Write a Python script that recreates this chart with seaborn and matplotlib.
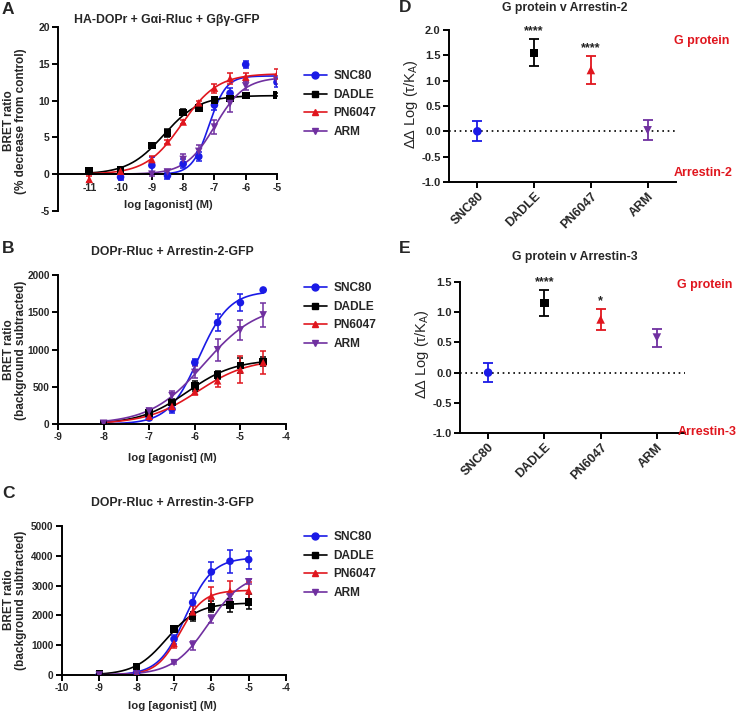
import numpy as np
import pandas as pd
import matplotlib
matplotlib.use("Agg")
import matplotlib.pyplot as plt
import seaborn as sns
from matplotlib.lines import Line2D
from matplotlib.ticker import FormatStrFormatter

sns.set_theme(style="ticks")
plt.rcParams['font.family'] = ['Liberation Sans', 'DejaVu Sans']
plt.rcParams['mathtext.fontset'] = 'custom'
plt.rcParams['mathtext.rm'] = 'Liberation Sans'
plt.rcParams['axes.unicode_minus'] = False

drugs = ["SNC80", "DADLE", "PN6047", "ARM"]
palette = {"SNC80": "#1a1ae6", "DADLE": "#000000", "PN6047": "#e0161e", "ARM": "#7030a0"}
marks = {"SNC80": "o", "DADLE": "s", "PN6047": "^", "ARM": "v"}
nan = np.nan

# ---- Panel A: G protein activation ----
a_logc = [-11, -10, -9, -8.5, -8, -7.5, -7, -6.5, -6, -5]
a_vals = {
    "SNC80":  [nan, -0.4, 1.2, -0.2, 1.4, 2.4, 9.4, 11.0, 14.9, 12.5],
    "DADLE":  [0.45, 0.55, 3.9, 5.6, 8.4, 9.0, 10.1, 10.3, 10.7, 10.8],
    "PN6047": [-0.7, 0.4, 2.0, 4.4, 7.1, 9.7, 11.7, 13.0, 13.2, 13.6],
    "ARM":    [nan, nan, 0.0, 0.3, 2.0, 3.1, 6.4, 9.6, 12.0, 12.8],
}
a_err = {
    "SNC80":  [nan, 0.4, 1.1, 0.4, 0.6, 0.6, 0.7, 0.7, 0.5, 0.6],
    "DADLE":  [0.2, 0.2, 0.3, 0.6, 0.4, 0.3, 0.3, 0.3, 0.3, 0.2],
    "PN6047": [0.4, 0.3, 0.5, 0.3, 0.3, 0.3, 0.6, 0.8, 0.6, 0.7],
    "ARM":    [nan, nan, 0.3, 0.3, 0.8, 0.9, 1.0, 1.1, 0.6, 0.6],
}

# ---- Panel B: Arrestin-2 ----
b_logc = [-8, -7, -6.5, -6, -5.5, -5, -4.5]
b_vals = {
    "SNC80":  [0, 80, 200, 826, 1362, 1629, 1799],
    "DADLE":  [5, 147, 290, 513, 660, 786, 840],
    "PN6047": [0, 103, 237, 437, 580, 727, 826],
    "ARM":    [10, 170, 380, 692, 996, 1263, 1464],
}
b_err = {
    "SNC80":  [0, 20, 50, 40, 120, 110, 0],
    "DADLE":  [0, 30, 40, 70, 50, 100, 60],
    "PN6047": [0, 20, 40, 50, 80, 180, 150],
    "ARM":    [0, 40, 60, 80, 150, 130, 160],
}

# ---- Panel C: Arrestin-3 ----
c_logc = [-9, -8, -7, -6.5, -6, -5.5, -5]
c_vals = {
    "SNC80":  [20, 90, 1205, 2433, 3460, 3817, 3873],
    "DADLE":  [35, 280, 1540, 1964, 2288, 2344, 2455],
    "PN6047": [0, 60, 1060, 2120, 2650, 2820, 2830],
    "ARM":    [0, 30, 413, 1004, 1875, 2620, 3125],
}
c_err = {
    "SNC80":  [0, 30, 150, 330, 320, 380, 300],
    "DADLE":  [0, 30, 80, 150, 180, 220, 250],
    "PN6047": [0, 20, 170, 200, 300, 330, 280],
    "ARM":    [0, 20, 40, 150, 140, 100, 80],
}

# ---- Panels D/E: bias factors ----
d_vals = [0.0, 1.55, 1.21, 0.02]
d_err = [0.20, 0.27, 0.28, 0.20]
d_stars = ["", "****", "****", ""]
e_vals = [0.0, 1.15, 0.88, 0.58]
e_err = [0.16, 0.21, 0.18, 0.15]
e_stars = ["", "****", "*", ""]

W, H = 744, 715
fig = plt.figure(figsize=(W / 100, H / 100), dpi=100)

TICK = 7.5
TITLE = 8.8
LAB = 8.2
YLAB = 8.5
LEG = 8.6
LET = 12.5


def add_ax(l, t, r, b):
    return fig.add_axes([l / W, 1 - b / H, (r - l) / W, (b - t) / H])


def fit_hill(x, y):
    x = np.asarray(x, float); y = np.asarray(y, float)
    m = ~np.isnan(y); x = x[m]; y = y[m]
    ec = np.arange(-10.5, -3.9, 0.01)
    hh = np.arange(0.4, 3.5, 0.02)
    E, Hh = np.meshgrid(ec, hh)
    f = 1.0 / (1.0 + 10 ** ((E[..., None] - x) * Hh[..., None]))
    top = (f * y).sum(-1) / (f * f).sum(-1)
    sse = ((y - top[..., None] * f) ** 2).sum(-1)
    i = np.unravel_index(np.argmin(sse), sse.shape)
    return top[i], E[i], Hh[i]


def style_ax(ax, size=TICK):
    for s in ["top", "right"]:
        ax.spines[s].set_visible(False)
    for s in ["left", "bottom"]:
        ax.spines[s].set_linewidth(1.4)
        ax.spines[s].set_color("black")
    ax.tick_params(width=1.4, length=4, labelsize=size, color="black", pad=2)
    for lab in ax.get_xticklabels() + ax.get_yticklabels():
        lab.set_fontweight("bold")


def curve_panel(ax, logc, vals, errs, x0, x1):
    rows, crows = [], []
    for d in drugs:
        top, ec, h = fit_hill(logc, vals[d])
        xs = np.linspace(x0, x1, 300)
        ys = top / (1 + 10 ** ((ec - xs) * h))
        crows += [{"x": a, "y": b, "drug": d} for a, b in zip(xs, ys)]
        rows += [{"x": a, "y": b, "e": e, "drug": d}
                 for a, b, e in zip(logc, vals[d], errs[d]) if not np.isnan(b)]
    cdf = pd.DataFrame(crows); pdf = pd.DataFrame(rows)
    sns.lineplot(data=cdf, x="x", y="y", hue="drug", palette=palette,
                 legend=False, ax=ax, lw=1.2, hue_order=drugs)
    for d in drugs:
        sub = pdf[pdf.drug == d]
        ax.errorbar(sub.x, sub.y, yerr=sub.e, fmt="none", ecolor=palette[d],
                    elinewidth=1.1, capsize=2.5, capthick=1.1)
    sns.scatterplot(data=pdf, x="x", y="y", hue="drug", style="drug",
                    palette=palette, markers=marks, hue_order=drugs,
                    style_order=drugs, s=30, edgecolor="none",
                    legend=False, ax=ax, zorder=5)
    ax.set_xlabel(""); ax.set_ylabel("")


def legend(yc):
    handles = [Line2D([0], [0], color=palette[d], marker=marks[d], lw=1.2,
                      ms=5, label=d) for d in drugs]
    fig.legend(handles=handles, loc="center left",
               bbox_to_anchor=(304 / W, 1 - yc / H), frameon=False,
               prop={"size": LEG, "weight": "bold"}, handlelength=1.9,
               handletextpad=0.55, labelspacing=0.55, borderpad=0,
               borderaxespad=0)


def ylab(yc, text):
    fig.text(15 / W, 1 - yc / H, text, rotation=90, ha="center", va="center",
             fontsize=YLAB, fontweight="bold", linespacing=1.0)


# ---------- A ----------
axA = add_ax(58, 27, 277, 211)
curve_panel(axA, a_logc, a_vals, a_err, -11, -5)
axA.set_xlim(-12, -5); axA.set_ylim(-5, 20)
axA.set_xticks(range(-11, -4)); axA.set_yticks(range(-5, 21, 5))
axA.spines["bottom"].set_position(("data", 0))
style_ax(axA)
legend(104)
fig.text(168 / W, 1 - 205 / H, "log [agonist] (M)", ha="center", va="center",
         fontsize=LAB, fontweight="bold")
ylab(121, "BRET ratio\n(% decrease from control)")
fig.text(167 / W, 1 - 20 / H, "HA-DOPr + Gαi-Rluc + Gβγ-GFP", ha="center",
         va="center", fontsize=TITLE, fontweight="bold")
fig.text(2 / W, 1 - 9 / H, "A", ha="left", va="center", fontsize=LET,
         fontweight="bold")

# ---------- B ----------
axB = add_ax(58, 275, 286, 424)
curve_panel(axB, b_logc, b_vals, b_err, -8, -4.5)
axB.set_xlim(-9, -4); axB.set_ylim(0, 2000)
axB.set_xticks(range(-9, -3)); axB.set_yticks(range(0, 2001, 500))
style_ax(axB, size=7.2)
legend(316)
fig.text(172 / W, 1 - 458 / H, "log [agonist] (M)", ha="center", va="center",
         fontsize=LAB, fontweight="bold")
ylab(350, "BRET ratio\n(background subtracted)")
fig.text(172 / W, 1 - 252 / H, "DOPr-Rluc + Arrestin-2-GFP", ha="center",
         va="center", fontsize=TITLE, fontweight="bold")
fig.text(2 / W, 1 - 249 / H, "B", ha="left", va="center", fontsize=LET,
         fontweight="bold")

# ---------- C ----------
axC = add_ax(62, 526, 286, 675)
curve_panel(axC, c_logc, c_vals, c_err, -9, -5)
axC.set_xlim(-10, -4); axC.set_ylim(0, 5000)
axC.set_xticks(range(-10, -3)); axC.set_yticks(range(0, 5001, 1000))
style_ax(axC, size=7.2)
legend(565)
fig.text(172 / W, 1 - 706 / H, "log [agonist] (M)", ha="center", va="center",
         fontsize=LAB, fontweight="bold")
ylab(600, "BRET ratio\n(background subtracted)")
fig.text(172 / W, 1 - 503 / H, "DOPr-Rluc + Arrestin-3-GFP", ha="center",
         va="center", fontsize=TITLE, fontweight="bold")
fig.text(2 / W, 1 - 494 / H, "C", ha="left", va="center", fontsize=LET,
         fontweight="bold")


# ---------- D / E ----------
def bias_panel(ax, vals, errs, stars, ylim, yticks, starpad):
    pos = np.arange(len(drugs))
    df = pd.DataFrame({"x": pos, "y": vals, "drug": drugs})
    ax.axhline(0, color="black", ls=(0, (1, 2.2)), lw=1.2, zorder=1)
    for i, d in enumerate(drugs):
        ax.errorbar(pos[i], vals[i], yerr=errs[i], fmt="none",
                    ecolor=palette[d], elinewidth=1.3, capsize=3.5,
                    capthick=1.3)
        if stars[i]:
            ax.text(pos[i], vals[i] + errs[i] + starpad, stars[i],
                    ha="center", va="bottom", fontsize=9, fontweight="bold",
                    color="#222222")
    sns.scatterplot(data=df, x="x", y="y", hue="drug", style="drug",
                    palette=palette, markers=marks, hue_order=drugs,
                    style_order=drugs, s=38, edgecolor="none", legend=False,
                    ax=ax, zorder=5)
    ax.set_xlim(-0.5, 3.5); ax.set_ylim(*ylim)
    ax.set_xticks(pos); ax.set_xticklabels(drugs)
    ax.set_yticks(yticks)
    ax.yaxis.set_major_formatter(FormatStrFormatter("%.1f"))
    ax.set_xlabel(""); ax.set_ylabel("")
    style_ax(ax, size=8)
    for lab in ax.get_xticklabels():
        lab.set_rotation(45); lab.set_ha("right"); lab.set_rotation_mode("anchor")
        lab.set_fontsize(9)


axD = add_ax(449, 30, 676, 182)
bias_panel(axD, d_vals, d_err, d_stars, (-1, 2), np.arange(-1, 2.01, 0.5), 0.04)
fig.text(411 / W, 1 - 104 / H, "ΔΔ Log (τ/K$_\\mathregular{A}$)", rotation=90,
         ha="center", va="center", fontsize=10.5)
fig.text(565 / W, 1 - 8 / H, "G protein v Arrestin-2", ha="center",
         va="center", fontsize=TITLE, fontweight="bold")
fig.text(399 / W, 1 - 8 / H, "D", ha="left", va="center", fontsize=LET,
         fontweight="bold")
fig.text(702 / W, 1 - 41 / H, "G protein", ha="center", va="center",
         fontsize=9, fontweight="bold", color="#e0161e")
fig.text(703 / W, 1 - 173 / H, "Arrestin-2", ha="center", va="center",
         fontsize=9, fontweight="bold", color="#e0161e")

axE = add_ax(460, 282, 685, 433)
bias_panel(axE, e_vals, e_err, e_stars, (-1, 1.5), np.arange(-1, 1.51, 0.5), 0.03)
fig.text(422 / W, 1 - 354 / H, "ΔΔ Log (τ/K$_\\mathregular{A}$)", rotation=90,
         ha="center", va="center", fontsize=10.5)
fig.text(575 / W, 1 - 257 / H, "G protein v Arrestin-3", ha="center",
         va="center", fontsize=TITLE, fontweight="bold")
fig.text(399 / W, 1 - 249 / H, "E", ha="left", va="center", fontsize=LET,
         fontweight="bold")
fig.text(705 / W, 1 - 285 / H, "G protein", ha="center", va="center",
         fontsize=9, fontweight="bold", color="#e0161e")
fig.text(707 / W, 1 - 432 / H, "Arrestin-3", ha="center", va="center",
         fontsize=9, fontweight="bold", color="#e0161e")

fig.savefig("out.png", dpi=100)
